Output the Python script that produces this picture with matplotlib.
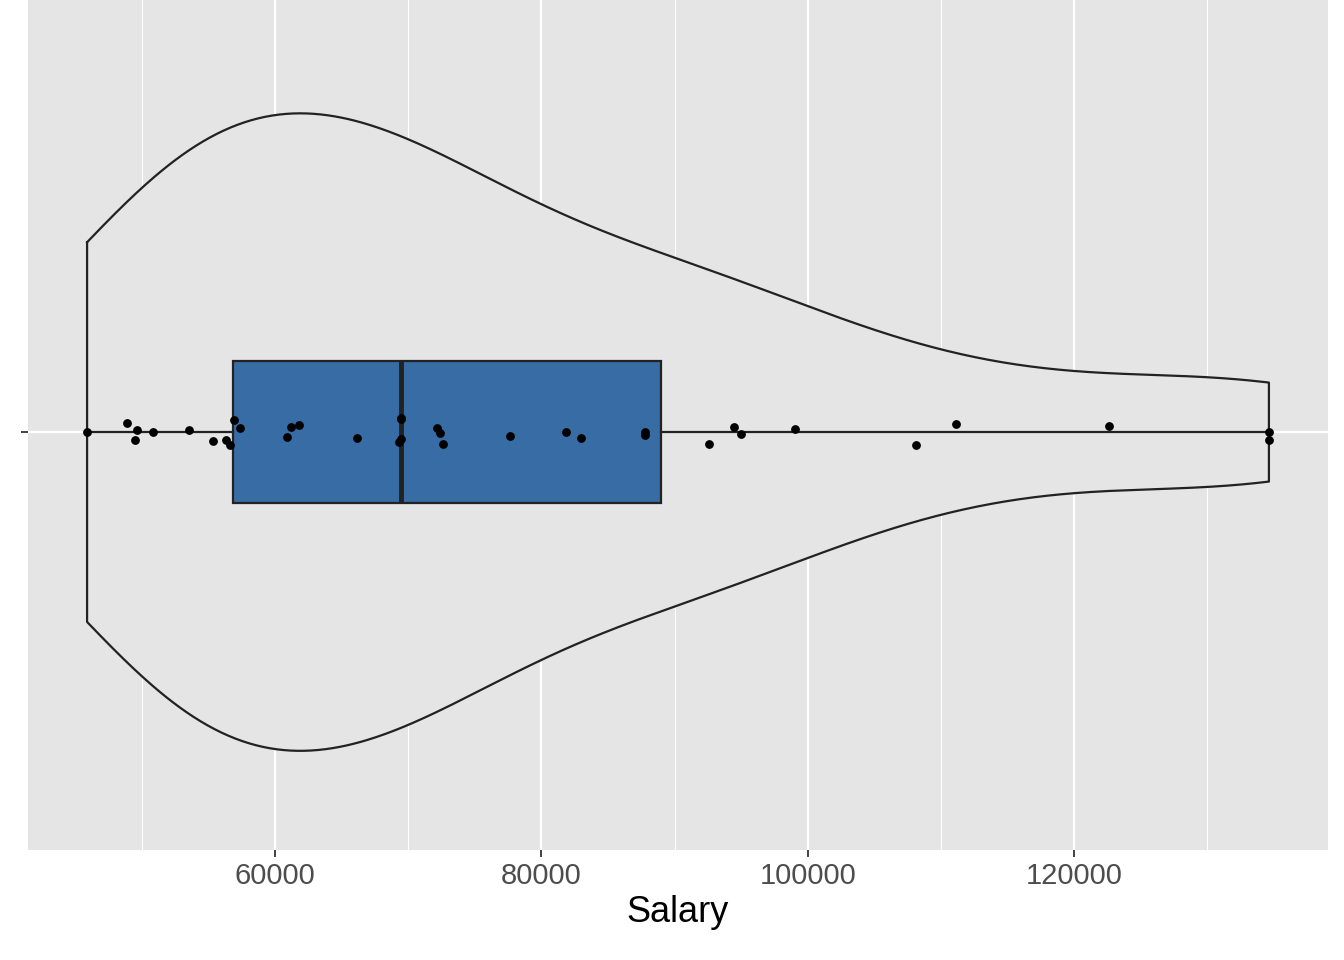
import numpy as np
import matplotlib
matplotlib.use("Agg")
import matplotlib.pyplot as plt

# salaries, with their vertical jitter offsets
salary = [45900, 48900, 49650, 49500, 50850, 53550, 55350, 56325, 56625, 56925,
          57375, 60900, 61200, 61800, 66150, 69300, 69450, 69450, 69450, 72150,
          72375, 72600, 77625, 81825, 82950, 87750, 87750, 92625, 94500, 95025,
          99075, 108150, 111150, 122625, 134625, 134625]
jitter = [0.0, 0.013, 0.003, -0.011, 0.0, 0.003, -0.013, -0.011, -0.018, 0.017,
          0.006, -0.007, 0.007, 0.010, -0.008, -0.014, 0.018, -0.010, 0.020, 0.006,
          -0.001, -0.017, -0.006, 0.0, -0.008, -0.004, 0.0, -0.017, 0.007, -0.003,
          0.004, -0.018, 0.011, 0.008, 0.0, -0.011]

x = np.array(salary, dtype=float)

# gaussian kde with R's bw.nrd0, trimmed to data range
sd = x.std(ddof=1)
iqr = np.subtract(*np.percentile(x, [75, 25]))
bw = 0.9 * min(sd, iqr / 1.34) * len(x) ** -0.2
grid = np.linspace(x.min(), x.max(), 512)
dens = np.exp(-0.5 * ((grid[:, None] - x[None, :]) / bw) ** 2).sum(axis=1)
dens = dens / dens.max() * 0.45

plt.rcParams['font.family'] = ['Liberation Sans', 'DejaVu Sans']
fig = plt.figure(figsize=(13.44, 9.6), dpi=100)
ax = fig.add_axes([28 / 1344, 110 / 960, 1300 / 1344, 850 / 960])
ax.set_facecolor('#e5e5e5')

ax.fill_between(grid, 1 - dens, 1 + dens, color='#e5e5e5', zorder=2)
ax.plot(np.concatenate([grid, grid[::-1], grid[:1]]),
        np.concatenate([1 + dens, (1 - dens)[::-1], (1 + dens)[:1]]),
        color='#222222', lw=1.6, zorder=3)

ax.boxplot(x, positions=[1], vert=False, widths=0.2, patch_artist=True,
           showfliers=False, showcaps=False, manage_ticks=False, zorder=4,
           boxprops=dict(facecolor='#386ca5', edgecolor='#222222', lw=1.6),
           whiskerprops=dict(color='#222222', lw=1.6),
           medianprops=dict(color='#222222', lw=3.5))
ax.scatter(x, 1 + np.array(jitter), s=28, color='black', zorder=5)

ax.set_xlim(41464, 139061)
ax.set_ylim(0.41, 1.61)
ax.set_xticks([60000, 80000, 100000, 120000])
ax.set_xticks([50000, 70000, 90000, 110000, 130000], minor=True)
ax.set_yticks([1])
ax.set_yticklabels([''])
ax.grid(which='major', color='white', lw=1.6, zorder=0)
ax.grid(which='minor', color='white', lw=0.8, zorder=0)
ax.set_axisbelow(True)
for s in ax.spines.values():
    s.set_visible(False)
ax.tick_params(which='major', length=5, width=1.3, color='#333333', labelsize=21, labelcolor='#4d4d4d')
ax.tick_params(which='minor', length=0)
ax.set_xlabel('Salary', fontsize=26, labelpad=4)
fig.savefig('out.png', dpi=100)
